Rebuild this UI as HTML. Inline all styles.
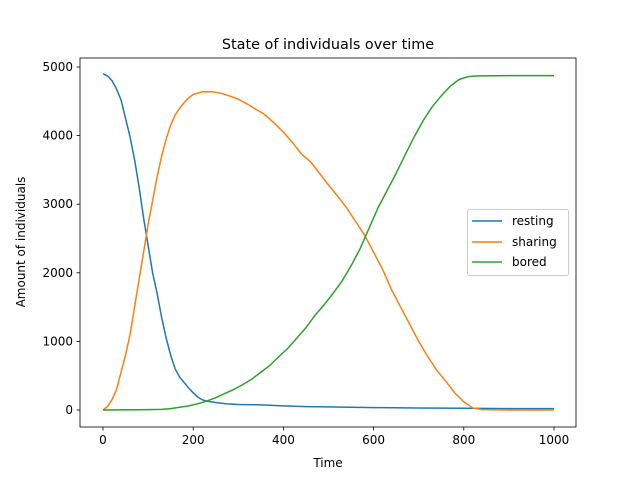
<!DOCTYPE html>
<html><head><meta charset="utf-8"><style>
body{margin:0;background:#fff;font-family:"Liberation Sans","DejaVu Sans",sans-serif}
svg text{font-family:"DejaVu Sans","Liberation Sans",sans-serif;font-size:12px;fill:#000}
</style></head><body>
<svg id="chart" width="640" height="480"></svg>
<script>
const restT=[0,10,20,30,40,50,60,70,80,90,100,110,120,130,140,150,160,170,180,190,200,210,220,230,250,275,300,350,400,450,500,550,600,700,800,900,1000];
const restV=[4900,4870,4800,4680,4520,4250,3980,3650,3250,2800,2400,2000,1700,1350,1050,800,600,480,400,320,250,190,150,130,110,90,80,75,60,50,45,40,35,30,25,20,20];
const shareT=[0,10,20,30,40,50,60,70,80,90,100,110,120,130,140,150,160,170,180,190,200,220,240,260,280,300,320,340,360,380,400,420,440,460,480,500,520,540,560,580,600,620,640,660,680,700,720,740,760,780,800,820,840,900,1000];
const shareV=[0,50,150,300,550,800,1100,1500,1900,2300,2700,3050,3400,3700,3950,4150,4300,4400,4480,4550,4600,4640,4640,4620,4580,4530,4460,4380,4300,4180,4050,3900,3730,3620,3450,3280,3120,2950,2750,2550,2300,2050,1750,1500,1250,1000,780,580,420,250,120,30,5,0,0];
const boredT=[0,100,130,150,170,190,210,230,250,270,290,310,330,350,370,390,410,430,450,470,490,510,530,550,570,590,610,630,650,670,690,710,730,750,770,790,810,830,900,1000];
const boredV=[0,5,10,20,40,60,90,130,180,240,300,370,450,550,650,780,900,1050,1200,1380,1530,1700,1880,2100,2350,2650,2950,3200,3450,3720,3980,4220,4420,4580,4720,4820,4860,4870,4875,4875];
const xTicks=[0,200,400,600,800,1000];
const yTicks=[0,1000,2000,3000,4000,5000];
const NS="http://www.w3.org/2000/svg";
const svg=document.getElementById('chart');
const X=v=>103+v*0.451, Y=v=>410-v*0.0686;
function mk(t,a,txt){const e=document.createElementNS(NS,t);for(const k in a)e.setAttribute(k,a[k]);if(txt!=null)e.textContent=txt;svg.appendChild(e);return e;}
let e;
e=mk('rect',{x:80,y:58,width:496,height:369,fill:'none',stroke:'#000','stroke-width':0.8});


xTicks.forEach(t=>{
 e=mk('line',{x1:X(t),x2:X(t),y1:427,y2:430.5,stroke:'#000','stroke-width':0.8});
 
 
 e=mk('text',{x:X(t),y:444,'text-anchor':'middle'},t);
 
 
});
yTicks.forEach(t=>{
 e=mk('line',{x1:76.5,x2:80,y1:Y(t),y2:Y(t),stroke:'#000','stroke-width':0.8});
 
 
 e=mk('text',{x:73,y:Y(t)+4,'text-anchor':'end'},t);
 
 
});
function line(T,V,c,n){
 e=mk('polyline',{points:T.map((t,i)=>X(t)+','+Y(V[i])).join(' '),fill:'none',stroke:c,'stroke-width':1.5});
 
 
}
line(restT,restV,'#1f77b4','resting-line');
line(shareT,shareV,'#ff7f0e','sharing-line');
line(boredT,boredV,'#2ca02c','bored-line');
e=mk('text',{x:328,y:49,'text-anchor':'middle',style:'font-size:14.4px'},'State of individuals over time');


e=mk('text',{x:328,y:467,'text-anchor':'middle'},'Time');


e=mk('text',{x:25,y:242,'text-anchor':'middle',transform:'rotate(-90 25 242)'},'Amount of individuals');


e=mk('rect',{x:467.5,y:209.5,width:101,height:66,rx:2,fill:'#fff',stroke:'#ccc','stroke-width':1});


[['resting','#1f77b4',221],['sharing','#ff7f0e',242],['bored','#2ca02c',262]].forEach(([n,c,y])=>{
 e=mk('line',{x1:472,x2:502,y1:y,y2:y,stroke:c,'stroke-width':1.5});
 
 
 e=mk('text',{x:512,y:y+4},n);
 
 
});
</script>
</body></html>
